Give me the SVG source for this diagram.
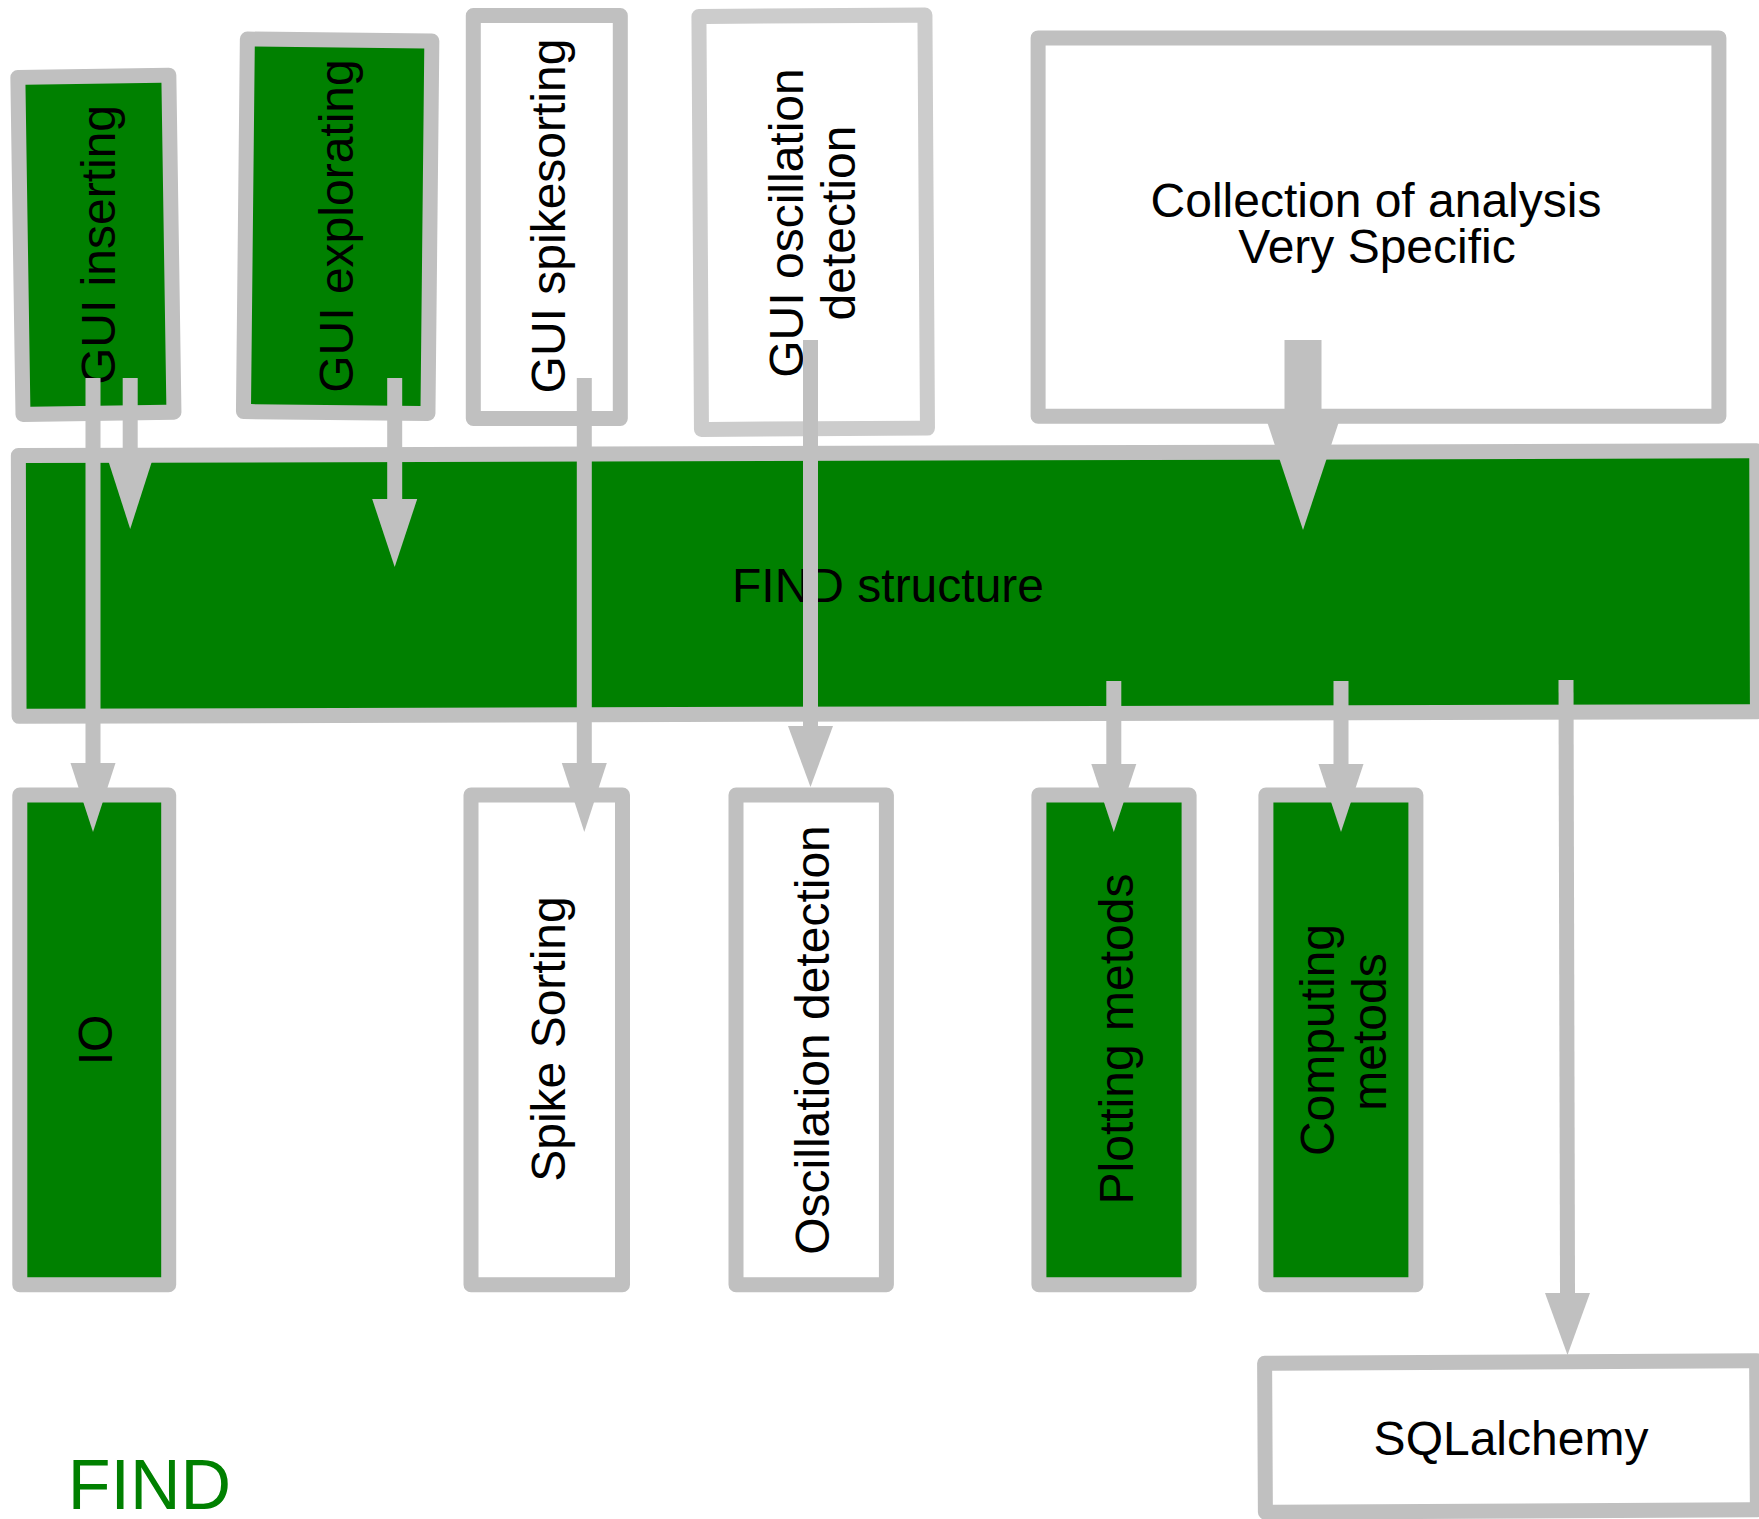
<svg xmlns="http://www.w3.org/2000/svg" width="1759" height="1519" viewBox="0 0 1759 1519">
<style>
.box{stroke:#c0c0c0;stroke-width:15;stroke-linejoin:round}
.lt{stroke:#cccccc}
.g{fill:#008000}
.w{fill:#ffffff}
.t{font-family:"Liberation Sans",Arial,Helvetica,sans-serif;font-size:48px;fill:#000000;text-anchor:middle}
.ln{stroke:#c0c0c0;stroke-width:15;fill:none;stroke-linecap:butt}
.ah{fill:#c0c0c0}
</style>
<rect width="1759" height="1519" fill="#ffffff"/>
<g id="gui-inserting">
<rect class="box g" x="20.4" y="76.3" width="151" height="337" transform="rotate(-0.87 95.9 244.7)"/>
<text class="t" transform="translate(114.5 245) rotate(-90)">GUI inserting</text>
</g>
<g id="gui-explorating">
<rect class="box g" x="245.4" y="40" width="184.5" height="372.5" transform="rotate(0.6 337.7 226.2)"/>
<text class="t" transform="translate(352.5 226) rotate(-90)">GUI explorating</text>
</g>
<g id="gui-spikesorting">
<rect class="box w" x="473.3" y="15.5" width="147" height="403"/>
<text class="t" transform="translate(564.5 216) rotate(-90)">GUI spikesorting</text>
</g>
<g id="gui-oscillation">
<rect class="box w lt" x="700.2" y="15.8" width="226" height="413" transform="rotate(-0.35 813.2 222.3)"/>
<text class="t" transform="translate(802.5 223) rotate(-90)">GUI oscillation</text>
<text class="t" transform="translate(854.5 223) rotate(-90)">detection</text>
</g>
<g id="collection">
<rect class="box w" x="1038.1" y="37.9" width="680.8" height="378.3"/>
<text class="t" x="1376" y="216.7">Collection of analysis</text>
<text class="t" x="1377" y="262.7">Very Specific</text>
</g>
<g id="find-structure">
<rect class="box g" x="18.7" y="453.2" width="1738.4" height="260.8" transform="rotate(-0.155 887.9 583.6)"/>
<text class="t" x="888" y="601.7">FIND structure</text>
</g>
<g id="io">
<rect class="box g" x="19.8" y="795.1" width="148.9" height="489.7"/>
<text class="t" transform="translate(112 1040) rotate(-90)">IO</text>
</g>
<g id="spike-sorting">
<rect class="box w" x="471" y="795.1" width="151.5" height="489.7"/>
<text class="t" transform="translate(565 1039) rotate(-90)">Spike Sorting</text>
</g>
<g id="oscillation-detection">
<rect class="box w" x="736" y="795.1" width="150.4" height="489.7"/>
<text class="t" transform="translate(829 1040) rotate(-90)">Oscillation detection</text>
</g>
<g id="plotting-metods">
<rect class="box g" x="1038.9" y="795.1" width="150.2" height="489.7"/>
<text class="t" transform="translate(1132.5 1039) rotate(-90)">Plotting metods</text>
</g>
<g id="computing-metods">
<rect class="box g" x="1265.9" y="795.1" width="150" height="489.7"/>
<text class="t" transform="translate(1333.5 1040) rotate(-90)">Computing</text>
<text class="t" transform="translate(1385.5 1032) rotate(-90)">metods</text>
</g>
<g id="sqlalchemy">
<rect class="box w" x="1265" y="1362" width="492" height="149" transform="rotate(-0.3 1511 1436.5)"/>
<text class="t" x="1511" y="1455">SQLalchemy</text>
</g>
<g id="find-label">
<text x="67.7" y="1509" style="font-family:'Liberation Sans',Arial,Helvetica,sans-serif;font-size:70px;fill:#008000">FIND</text>
</g>
<g id="connectors">
<line class="ln" x1="93" y1="378" x2="93" y2="764"/>
<polygon class="ah" points="70.5,763 115.5,763 93,832"/>
<line class="ln" x1="130.2" y1="378" x2="130.2" y2="460"/>
<polygon class="ah" points="107.7,459 152.7,459 130.2,529"/>
<line class="ln" x1="394.7" y1="378" x2="394.7" y2="500"/>
<polygon class="ah" points="372.2,499 417.2,499 394.7,567"/>
<line class="ln" x1="584.3" y1="378" x2="584.3" y2="764"/>
<polygon class="ah" points="561.8,763 606.8,763 584.3,832"/>
<line class="ln" x1="810.5" y1="340" x2="810.5" y2="727"/>
<polygon class="ah" points="788,726 833,726 810.5,787"/>
<line class="ln" x1="1303" y1="340" x2="1303" y2="421" style="stroke-width:37"/>
<polygon class="ah" points="1266.5,420 1339.5,420 1303,530"/>
<line class="ln" x1="1113.8" y1="681" x2="1113.8" y2="765"/>
<polygon class="ah" points="1091.3,764 1136.3,764 1113.8,832"/>
<line class="ln" x1="1341" y1="681" x2="1341" y2="765"/>
<polygon class="ah" points="1318.5,764 1363.5,764 1341,832"/>
<line class="ln" x1="1566" y1="680" x2="1567.5" y2="1294"/>
<polygon class="ah" points="1545,1293 1590,1293 1567.5,1355"/>
</g>
</svg>
